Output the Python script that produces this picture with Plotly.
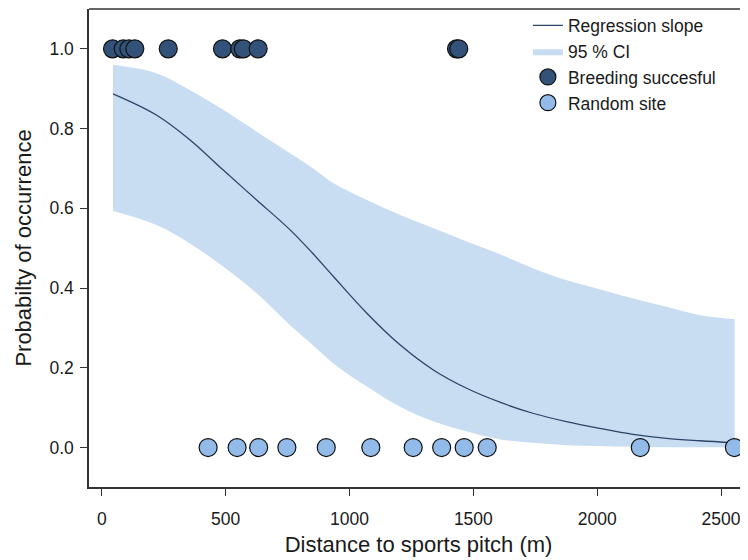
import plotly.graph_objects as go

# Observed data
breeding_x = [43, 86, 109, 133, 268, 487, 557, 571, 631, 1432, 1441]
breeding_y = [1, 1, 1, 1, 1, 1, 1, 1, 1, 1, 1]
random_x = [429, 546, 633, 747, 906, 1086, 1257, 1372, 1463, 1556, 2174, 2554]
random_y = [0, 0, 0, 0, 0, 0, 0, 0, 0, 0, 0, 0]

# Fitted regression curve and 95 % CI
fit_x = [45, 220, 355, 490, 625, 760, 850, 935, 1070, 1205, 1340, 1475,
         1610, 1740, 1875, 2010, 2145, 2280, 2415, 2555]
fit_y = [0.887, 0.834, 0.772, 0.696, 0.621, 0.546, 0.488, 0.429, 0.337,
         0.257, 0.194, 0.148, 0.113, 0.086, 0.065, 0.048, 0.033, 0.023, 0.017, 0.012]
ci_upper = [0.960, 0.939, 0.897, 0.847, 0.792, 0.738, 0.701, 0.663, 0.621,
            0.583, 0.550, 0.516, 0.484, 0.450, 0.420, 0.397, 0.374, 0.353, 0.332, 0.322]
ci_lower = [0.593, 0.558, 0.512, 0.454, 0.387, 0.307, 0.258, 0.211, 0.153,
            0.102, 0.065, 0.040, 0.020, 0.012, 0.006, 0.004, 0.002, 0.001, 0.001, 0.001]

x_ticks = [0, 500, 1000, 1500, 2000, 2500]
y_ticks = [0.0, 0.2, 0.4, 0.6, 0.8, 1.0]

FONT = "Liberation Sans, Arial, sans-serif"
CI_COLOR = "#c8dcf2"

fig = go.Figure()

# CI band: lower edge (hidden) then upper edge filled to it
fig.add_trace(go.Scatter(
    x=fit_x, y=ci_lower, mode="lines", showlegend=False, hoverinfo="skip",
    line=dict(width=0, color=CI_COLOR, shape="spline"),
))
fig.add_trace(go.Scatter(
    x=fit_x, y=ci_upper, mode="lines", name="95 % CI", legendrank=2,
    fill="tonexty", fillcolor=CI_COLOR,
    line=dict(width=0, color=CI_COLOR, shape="spline"),
))
fig.add_trace(go.Scatter(
    x=fit_x, y=fit_y, mode="lines", name="Regression slope", legendrank=1,
    line=dict(color="#2c4466", width=1.3, shape="spline"),
))
fig.add_trace(go.Scatter(
    x=breeding_x, y=breeding_y, mode="markers", name="Breeding succesful", legendrank=3,
    marker=dict(size=18, color="#33527a", line=dict(color="#111111", width=1.2)),
))
fig.add_trace(go.Scatter(
    x=random_x, y=random_y, mode="markers", name="Random site", legendrank=4,
    marker=dict(size=18, color="#93bbe9", line=dict(color="#111111", width=1.2)),
))

# The page body adds an 8 px margin, so the figure is sized 8 px smaller.
fig.update_layout(
    width=740, height=552,
    margin=dict(l=81, r=0, t=1, b=73, autoexpand=False),
    paper_bgcolor="white", plot_bgcolor="white",
    font=dict(family=FONT, size=17, color="#1a1a1a"),
    showlegend=True,
    legend=dict(
        x=0.666, y=1.003, xanchor="left", yanchor="top",
        bgcolor="rgba(0,0,0,0)", font=dict(size=17.5),
        traceorder="normal", tracegroupgap=0, itemwidth=30,
    ),
    xaxis=dict(
        range=[-52, 2609], tickvals=x_ticks, ticks="outside", ticklen=7,
        tickcolor="#333", showline=True, linecolor="#333", linewidth=1.5,
        mirror=False, showgrid=False, zeroline=False, automargin=False,
        ticklabelstandoff=8, tickfont=dict(size=17.5),
        title=dict(text="Distance to sports pitch (m)", font=dict(size=22), standoff=9),
    ),
    yaxis=dict(
        range=[-0.099, 1.1], tickvals=y_ticks, tickformat=".1f", ticks="outside",
        ticklen=7, tickcolor="#333", showline=True, linecolor="#333", linewidth=1.5,
        showgrid=False, zeroline=False, ticklabelstandoff=3, automargin=False,
        tickfont=dict(size=17.5),
        title=dict(text="Probabilty of occurrence", font=dict(size=22), standoff=12),
    ),
)

# Top border of the box
fig.add_shape(type="line", xref="paper", yref="paper", x0=0, x1=1, y0=1, y1=1,
              line=dict(color="#333", width=1.5))

fig.write_html("out.html")
